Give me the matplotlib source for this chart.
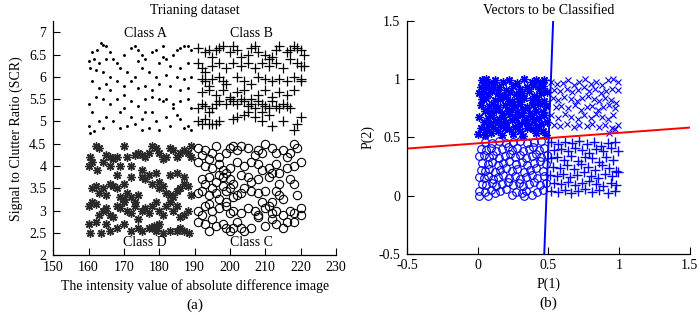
import numpy as np
import matplotlib
matplotlib.use('Agg')
import matplotlib.pyplot as plt
from matplotlib.ticker import FuncFormatter

plt.rcParams['font.family'] = ['Liberation Serif', 'DejaVu Serif']
plt.rcParams['font.size'] = 10

# ---- panel (a): training dataset, (intensity, SCR) ----
class_a = [(163.5, 6.75), (164, 6.72), (165, 6.7), (162.5, 6.6), (161, 6.55), (166, 6.55), (160, 6.35),
           (161.5, 6.4), (163, 6.3), (165, 6.4), (160.5, 6.2), (162, 6.15), (164, 6.1), (167, 6.4), (168, 6.3),
           (169, 6.2), (170, 6.5), (172, 6.65), (173, 6.7), (174, 6.6), (175, 6.5), (176, 6.4), (178, 6.55),
           (179, 6.6), (181, 6.45), (182, 6.4), (184, 6.5), (185, 6.6), (186, 6.65), (187, 6.7), (188, 6.7),
           (189, 6.6), (180, 6.3), (183, 6.25), (186, 6.2), (188, 6.3), (171, 6.1), (173, 6.0), (175, 6.2),
           (177, 6.1), (179, 6.0), (182, 6.05), (185, 6.0), (187, 5.95), (189, 6.0), (161, 5.9), (163, 5.75),
           (165, 5.85), (166, 5.7), (168, 5.9), (170, 5.8), (172, 5.9), (174, 5.75), (176, 5.8), (178, 5.7),
           (180, 5.85), (183, 5.8), (186, 5.7), (188, 5.75), (160, 5.4), (162, 5.55), (164, 5.5), (166, 5.4),
           (168, 5.5), (170, 5.6), (172, 5.45), (174, 5.35), (176, 5.5), (178, 5.55), (180, 5.5), (181, 5.45),
           (182, 5.5), (184, 5.4), (186, 5.45), (188, 5.5), (189, 5.3), (161, 5.2), (163, 5.0), (165, 5.1),
           (167, 5.0), (169, 5.2), (171, 4.9), (172, 5.1), (173, 4.95), (175, 5.05), (176, 5.2), (177, 4.85),
           (179, 5.0), (180, 4.8), (182, 5.1), (183, 4.9), (185, 5.15), (186, 5.05), (187, 4.85), (188, 4.9),
           (189, 4.8), (160, 4.9), (160.5, 4.75), (161.5, 4.78), (170, 5.3), (166, 6.0), (184, 5.3),
           (174, 6.35), (169, 4.85), (178, 5.2), (164, 4.85), (181, 6.7), (175, 4.8)]

class_b = [(191, 6.65), (193, 6.55), (194, 6.6), (195, 6.45), (196, 6.6), (197, 6.65), (198, 6.7), (200, 6.55),
           (201, 6.7), (202, 6.6), (203, 6.45), (205, 6.5), (206, 6.65), (207, 6.7), (208, 6.55), (210, 6.5),
           (211, 6.4), (212, 6.45), (213, 6.6), (214, 6.7), (216, 6.55), (217, 6.6), (218, 6.7), (219, 6.65),
           (220, 6.6), (221, 6.5), (191, 6.3), (192, 6.2), (193, 6.1), (195, 6.25), (197, 6.3), (199, 6.2),
           (201, 6.3), (203, 6.25), (205, 6.3), (207, 6.2), (209, 6.3), (211, 6.25), (213, 6.3), (215, 6.2),
           (217, 6.4), (219, 6.3), (220, 6.25), (221, 6.25), (192, 5.95), (193, 5.9), (194, 5.8), (195, 5.95),
           (197, 6.0), (198, 5.9), (199, 5.85), (202, 6.0), (204, 5.9), (206, 5.85), (208, 6.0), (210, 5.95),
           (212, 5.9), (214, 5.95), (216, 5.9), (218, 6.0), (220, 5.95), (220, 5.9), (192, 5.65), (194, 5.7),
           (196, 5.6), (198, 5.7), (200, 5.55), (202, 5.65), (204, 5.7), (206, 5.5), (208, 5.6), (210, 5.7),
           (212, 5.55), (214, 5.65), (216, 5.6), (218, 5.7), (191, 5.3), (192, 5.4), (193, 5.35), (194, 5.2),
           (195, 5.3), (196, 5.4), (197, 5.45), (199, 5.4), (200, 5.5), (201, 5.45), (202, 5.4), (203, 5.5),
           (204, 5.45), (205, 5.35), (206, 5.4), (207, 5.3), (208, 5.45), (209, 5.4), (210, 5.35), (211, 5.3),
           (212, 5.45), (213, 5.35), (214, 5.3), (215, 5.4), (216, 5.35), (217, 5.3), (191, 5.0), (192, 4.95),
           (193, 5.05), (194, 4.95), (195, 4.95), (196, 4.95), (197, 5.0), (201, 5.05), (202, 5.1), (205, 5.2),
           (207, 5.1), (209, 5.0), (212, 4.9), (215, 5.0), (219, 4.95), (218, 4.8), (220, 5.1), (209, 5.2),
           (204, 5.15), (211, 5.15)]

class_d = [(160, 4.0), (160.5, 4.2), (161, 4.1), (162, 4.45), (163, 4.4), (162.5, 3.9), (164, 4.1), (165, 4.25),
           (166, 4.2), (167, 4.15), (168, 4.2), (169, 4.0), (170, 4.45), (171, 4.2), (172, 4.0), (173, 4.25),
           (174, 4.3), (175, 4.25), (176, 4.2), (177, 4.3), (178, 4.45), (179, 4.4), (180, 4.3), (181, 4.15),
           (182, 4.2), (183, 4.4), (184, 4.35), (185, 4.2), (186, 4.3), (187, 4.35), (188, 4.3), (189, 4.45),
           (189, 4.2), (161, 3.5), (162, 3.55), (163, 3.4), (164, 3.5), (165, 3.35), (166, 3.6), (167, 3.55),
           (168, 3.5), (169, 3.3), (170, 3.25), (171, 3.4), (172, 3.3), (173, 3.2), (174, 3.35), (175, 3.75),
           (176, 3.7), (177, 3.8), (178, 3.6), (179, 3.85), (180, 3.5), (181, 3.55), (182, 3.4), (183, 3.35),
           (184, 3.3), (185, 3.45), (186, 3.5), (187, 3.6), (188, 3.55), (189, 3.35), (160, 3.1), (161, 3.2),
           (162, 3.15), (163, 2.9), (164, 3.0), (165, 3.05), (166, 2.9), (167, 2.85), (168, 3.1), (169, 3.05),
           (170, 3.2), (171, 3.0), (172, 2.95), (173, 3.1), (174, 2.8), (175, 3.0), (176, 3.05), (177, 2.95),
           (178, 3.1), (179, 3.2), (180, 3.0), (181, 2.9), (182, 3.1), (183, 3.2), (184, 3.0), (185, 3.1),
           (186, 2.85), (187, 2.9), (188, 3.0), (160, 2.7), (160.5, 2.5), (162, 2.75), (163.5, 2.5), (165, 2.7),
           (166, 2.55), (168, 2.6), (170, 2.7), (172, 2.55), (174, 2.6), (175, 2.55), (177, 2.6), (178, 2.6),
           (178.5, 2.65), (179, 2.55), (179.5, 2.6), (180, 2.7), (181, 2.5), (183, 2.55), (185, 2.55),
           (186, 2.6), (187, 2.55), (188.5, 2.5), (166, 4.0), (175, 3.9), (183, 3.8), (185, 3.85), (168, 3.8),
           (172, 3.75), (170, 3.6), (180, 3.65), (187, 3.75)]

class_c = [(191, 4.4), (192, 4.25), (193, 4.35), (194, 4.15), (195, 4.3), (196, 4.45), (197, 4.2), (199, 4.3),
           (200, 4.4), (201, 4.45), (202, 4.35), (203, 4.45), (205, 4.4), (207, 4.25), (208, 4.35), (209, 4.3),
           (210, 4.5), (212, 4.4), (213, 4.3), (215, 4.35), (216, 4.2), (217, 4.3), (218, 4.5), (219, 4.4),
           (191, 4.1), (193, 4.0), (195, 3.95), (197, 4.05), (198, 3.9), (200, 3.95), (202, 4.1), (204, 4.0),
           (206, 4.1), (208, 4.05), (209, 3.9), (211, 3.95), (213, 4.05), (214, 3.85), (216, 3.95), (218, 4.0),
           (220, 4.1), (192, 3.7), (193, 3.6), (194, 3.75), (196, 3.65), (197, 3.8), (198, 3.75), (199, 3.85),
           (200, 3.7), (201, 3.6), (203, 3.8), (205, 3.75), (206, 3.65), (208, 3.7), (211, 3.75), (212, 3.85),
           (214, 3.6), (217, 3.7), (218, 3.6), (191, 3.4), (192, 3.45), (194, 3.35), (195, 3.5), (196, 3.4),
           (198, 3.55), (199, 3.45), (200, 3.5), (201, 3.3), (202, 3.35), (203, 3.4), (204, 3.5), (206, 3.45),
           (208, 3.4), (210, 3.45), (213, 3.45), (214, 3.35), (215, 3.25), (219, 3.35), (191, 3.0), (192, 2.9),
           (193, 3.1), (194, 3.15), (195, 3.0), (197, 3.05), (199, 3.1), (200, 2.95), (201, 3.0), (203, 2.95),
           (205, 3.05), (207, 3.0), (208, 2.9), (210, 3.05), (211, 3.1), (212, 2.95), (213, 3.0), (215, 2.9),
           (217, 3.0), (218, 2.95), (220, 3.05), (191, 2.75), (193, 2.7), (194, 2.55), (195, 2.8), (196, 2.65),
           (198, 2.7), (199, 2.6), (200, 2.55), (201, 2.6), (202, 2.75), (203, 2.6), (204, 2.55), (206, 2.6),
           (208, 2.85), (210, 2.65), (212, 2.8), (213, 2.7), (215, 2.6), (216, 2.75), (218, 2.75), (220, 2.9),
           (197, 3.25), (209, 3.2), (212, 3.2), (199, 3.2)]

class_labels = ['Class A', 'Class B', 'Class C', 'Class D']
label_pos = [(176, 6.97), (206, 6.97), (206, 2.28), (176, 2.28)]

# ---- panel (b): vectors to be classified, (P1, P2) ----
vec_ast = [(0.03, 0.99), (0.06, 1.0), (0.08, 0.97), (0.12, 0.99), (0.18, 0.98), (0.22, 0.99), (0.28, 0.97),
           (0.33, 1.0), (0.38, 0.98), (0.41, 0.99), (0.44, 0.97), (0.47, 0.99), (0.02, 0.93), (0.05, 0.94),
           (0.09, 0.92), (0.11, 0.95), (0.15, 0.93), (0.2, 0.91), (0.25, 0.94), (0.3, 0.92), (0.35, 0.93),
           (0.39, 0.95), (0.43, 0.92), (0.46, 0.94), (0.01, 0.88), (0.04, 0.89), (0.07, 0.87), (0.1, 0.9),
           (0.14, 0.88), (0.17, 0.86), (0.23, 0.89), (0.27, 0.87), (0.31, 0.88), (0.36, 0.9), (0.4, 0.86),
           (0.45, 0.88), (0.49, 0.89), (0.03, 0.83), (0.06, 0.84), (0.12, 0.82), (0.16, 0.83), (0.2, 0.85),
           (0.24, 0.81), (0.29, 0.83), (0.33, 0.84), (0.38, 0.82), (0.42, 0.83), (0.47, 0.81), (0.02, 0.78),
           (0.08, 0.77), (0.11, 0.79), (0.14, 0.76), (0.19, 0.78), (0.22, 0.8), (0.26, 0.77), (0.3, 0.79),
           (0.35, 0.76), (0.39, 0.78), (0.44, 0.79), (0.48, 0.77), (0.05, 0.73), (0.09, 0.72), (0.13, 0.74),
           (0.17, 0.71), (0.21, 0.73), (0.25, 0.75), (0.28, 0.72), (0.32, 0.74), (0.37, 0.71), (0.41, 0.73),
           (0.46, 0.72), (0.01, 0.68), (0.07, 0.67), (0.1, 0.69), (0.15, 0.66), (0.18, 0.68), (0.23, 0.7),
           (0.27, 0.67), (0.31, 0.69), (0.34, 0.66), (0.38, 0.68), (0.43, 0.67), (0.47, 0.69), (0.04, 0.63),
           (0.08, 0.62), (0.12, 0.64), (0.16, 0.61), (0.2, 0.63), (0.24, 0.65), (0.29, 0.62), (0.33, 0.63),
           (0.36, 0.61), (0.4, 0.64), (0.45, 0.62), (0.49, 0.63), (0.02, 0.58), (0.06, 0.57), (0.11, 0.59),
           (0.14, 0.56), (0.19, 0.58), (0.22, 0.57), (0.26, 0.59), (0.3, 0.56), (0.35, 0.58), (0.39, 0.57),
           (0.42, 0.59), (0.46, 0.56), (0.0, 0.53), (0.05, 0.52), (0.09, 0.54), (0.17, 0.52), (0.25, 0.53),
           (0.32, 0.51), (0.41, 0.54), (0.48, 0.52)]

vec_x = [(0.52, 0.98), (0.56, 0.96), (0.6, 0.97), (0.64, 0.99), (0.68, 0.95), (0.72, 0.98), (0.76, 1.0),
         (0.8, 0.96), (0.84, 0.98), (0.88, 0.95), (0.92, 0.99), (0.96, 1.0), (0.99, 0.98), (0.54, 0.91),
         (0.58, 0.9), (0.63, 0.92), (0.67, 0.89), (0.71, 0.91), (0.75, 0.93), (0.79, 0.9), (0.83, 0.92),
         (0.87, 0.88), (0.91, 0.9), (0.95, 0.92), (0.99, 0.91), (0.53, 0.84), (0.57, 0.82), (0.61, 0.85),
         (0.66, 0.83), (0.7, 0.81), (0.74, 0.84), (0.78, 0.86), (0.82, 0.83), (0.86, 0.81), (0.9, 0.84),
         (0.94, 0.82), (0.98, 0.8), (0.55, 0.76), (0.59, 0.77), (0.64, 0.75), (0.69, 0.78), (0.73, 0.74),
         (0.77, 0.76), (0.81, 0.77), (0.85, 0.74), (0.89, 0.76), (0.93, 0.78), (0.97, 0.75), (0.52, 0.69),
         (0.57, 0.67), (0.62, 0.7), (0.66, 0.68), (0.71, 0.66), (0.75, 0.69), (0.8, 0.67), (0.84, 0.7),
         (0.88, 0.68), (0.92, 0.66), (0.96, 0.69), (0.54, 0.61), (0.58, 0.6), (0.63, 0.62), (0.68, 0.59),
         (0.72, 0.61), (0.77, 0.6), (0.81, 0.62), (0.86, 0.59), (0.9, 0.61), (0.95, 0.58), (0.99, 0.61),
         (0.97, 0.57), (0.93, 0.54)]

vec_o = [(0.05, 0.46), (0.1, 0.45), (0.15, 0.47), (0.2, 0.45), (0.25, 0.46), (0.3, 0.47), (0.35, 0.45),
         (0.4, 0.46), (0.45, 0.47), (0.02, 0.4), (0.06, 0.39), (0.09, 0.41), (0.13, 0.38), (0.17, 0.4),
         (0.21, 0.42), (0.24, 0.39), (0.28, 0.41), (0.32, 0.38), (0.36, 0.4), (0.39, 0.42), (0.43, 0.39),
         (0.47, 0.41), (0.01, 0.34), (0.04, 0.35), (0.08, 0.33), (0.11, 0.35), (0.15, 0.32), (0.19, 0.34),
         (0.23, 0.36), (0.26, 0.33), (0.3, 0.35), (0.34, 0.32), (0.38, 0.34), (0.41, 0.36), (0.45, 0.33),
         (0.49, 0.35), (0.03, 0.28), (0.07, 0.27), (0.1, 0.29), (0.14, 0.26), (0.18, 0.28), (0.22, 0.3),
         (0.27, 0.27), (0.31, 0.29), (0.35, 0.26), (0.4, 0.28), (0.44, 0.3), (0.48, 0.27), (0.02, 0.22),
         (0.05, 0.21), (0.08, 0.23), (0.12, 0.2), (0.16, 0.22), (0.2, 0.24), (0.24, 0.21), (0.28, 0.23),
         (0.33, 0.2), (0.37, 0.22), (0.41, 0.24), (0.46, 0.21), (0.01, 0.16), (0.04, 0.15), (0.07, 0.17),
         (0.11, 0.14), (0.14, 0.16), (0.18, 0.18), (0.22, 0.15), (0.26, 0.17), (0.3, 0.14), (0.34, 0.16),
         (0.38, 0.18), (0.42, 0.15), (0.47, 0.17), (0.03, 0.1), (0.06, 0.09), (0.1, 0.11), (0.13, 0.08),
         (0.17, 0.1), (0.21, 0.12), (0.25, 0.09), (0.29, 0.11), (0.32, 0.08), (0.36, 0.1), (0.4, 0.12),
         (0.44, 0.09), (0.48, 0.11), (0.01, 0.04), (0.05, 0.03), (0.09, 0.05), (0.12, 0.02), (0.16, 0.04),
         (0.2, 0.06), (0.27, 0.03), (0.31, 0.02), (0.34, 0.04), (0.38, 0.01), (0.42, 0.03), (0.46, 0.05),
         (0.01, 0.0), (0.07, 0.0), (0.24, 0.01), (0.33, 0.0)]

vec_plus = [(0.52, 0.46), (0.57, 0.44), (0.62, 0.46), (0.67, 0.45), (0.72, 0.47), (0.77, 0.44), (0.82, 0.46),
            (0.87, 0.43), (0.92, 0.45), (0.97, 0.46), (0.54, 0.39), (0.59, 0.4), (0.64, 0.38), (0.69, 0.41),
            (0.74, 0.39), (0.79, 0.37), (0.84, 0.4), (0.89, 0.38), (0.94, 0.41), (0.99, 0.38), (0.52, 0.32),
            (0.56, 0.33), (0.61, 0.31), (0.66, 0.34), (0.71, 0.3), (0.76, 0.33), (0.81, 0.32), (0.86, 0.29),
            (0.91, 0.33), (0.96, 0.31), (0.53, 0.25), (0.58, 0.24), (0.63, 0.26), (0.68, 0.23), (0.73, 0.27),
            (0.78, 0.25), (0.83, 0.22), (0.88, 0.26), (0.93, 0.24), (0.98, 0.21), (0.51, 0.18), (0.56, 0.17),
            (0.6, 0.19), (0.65, 0.16), (0.7, 0.18), (0.75, 0.2), (0.8, 0.17), (0.85, 0.15), (0.9, 0.19),
            (0.95, 0.17), (0.99, 0.2), (0.54, 0.11), (0.59, 0.1), (0.64, 0.12), (0.69, 0.09), (0.74, 0.11),
            (0.79, 0.13), (0.84, 0.1), (0.89, 0.08), (0.94, 0.11), (0.98, 0.09), (0.52, 0.04), (0.57, 0.03),
            (0.62, 0.05), (0.66, 0.02), (0.71, 0.04), (0.76, 0.06), (0.81, 0.03), (0.86, 0.05), (0.92, 0.02),
            (0.97, 0.04)]

# decision boundaries: red  P2 = a + b*P1,  blue  P1 = c + d*P2
red_a, red_b = 0.45, 0.09
blue_c, blue_d = 0.486, 0.0315

fig = plt.figure(figsize=(7, 3.15), dpi=100)
ax1 = fig.add_axes([0.076, 0.19, 0.404, 0.743])
ax2 = fig.add_axes([0.582, 0.194, 0.403, 0.739])


def style_axes(ax):
    ax.spines['top'].set_visible(False)
    ax.spines['right'].set_visible(False)
    ax.tick_params(direction='in', length=5, width=0.8, labelsize=10)
    ax.tick_params(axis='x', pad=4)
    ax.tick_params(axis='y', pad=5)
    for s in ('left', 'bottom'):
        ax.spines[s].set_linewidth(0.9)


# panel (a)
pts = np.array(class_a)
ax1.plot(pts[:, 0], pts[:, 1], '.', color='black', markersize=2.2)
pts = np.array(class_b)
ax1.plot(pts[:, 0], pts[:, 1], '+', color='black', markersize=7, mew=0.9)
pts = np.array(class_d)
ax1.plot(pts[:, 0], pts[:, 1], linestyle='none', marker=(8, 2, 0), color='#2a2a2a', markersize=6, mew=1.0)
pts = np.array(class_c)
ax1.plot(pts[:, 0], pts[:, 1], 'o', mfc='none', mec='black', markersize=6, mew=0.8)

for lab, (x, y) in zip(class_labels, label_pos):
    ax1.text(x, y, lab, ha='center', va='center', fontsize=10)

ax1.set_xlim(150, 230)
ax1.set_ylim(2, 7.25)
ax1.set_xticks(np.arange(150, 231, 10))
ax1.set_yticks(np.arange(2, 7.01, 0.5))
ax1.yaxis.set_major_formatter(FuncFormatter(lambda v, p: '%g' % v))
style_axes(ax1)
ax1.set_title('Trianing dataset', fontsize=10, pad=5)
ax1.set_xlabel('The intensity value of absolute difference image', fontsize=10, labelpad=4)
ax1.set_ylabel('Signal to Clutter Ratio (SCR)', fontsize=10, labelpad=4)
ax1.text(0.5, -0.215, '(a)', transform=ax1.transAxes, ha='center', va='center', fontsize=11)

# panel (b)
blue = '#0000ff'
pts = np.array(vec_o)
ax2.plot(pts[:, 0], pts[:, 1], 'o', mfc='none', mec=blue, markersize=5.5, mew=0.8)
pts = np.array(vec_plus)
ax2.plot(pts[:, 0], pts[:, 1], '+', color=blue, markersize=6.5, mew=1.0)
pts = np.array(vec_ast)
ax2.plot(pts[:, 0], pts[:, 1], linestyle='none', marker=(8, 2, 0), color=blue, markersize=6, mew=1.0)
pts = np.array(vec_x)
ax2.plot(pts[:, 0], pts[:, 1], 'x', color=blue, markersize=5, mew=0.8)

xs = np.array([-0.5, 1.5])
ax2.plot(xs, red_a + red_b * xs, color='red', lw=1.4)
ys = np.array([-0.5, 1.5])
ax2.plot(blue_c + blue_d * ys, ys, color=blue, lw=1.4)

ax2.set_xlim(-0.5, 1.5)
ax2.set_ylim(-0.5, 1.5)
ax2.set_xticks([-0.5, 0, 0.5, 1, 1.5])
ax2.set_yticks([-0.5, 0, 0.5, 1, 1.5])
fmt = FuncFormatter(lambda v, p: '%g' % v)
ax2.xaxis.set_major_formatter(fmt)
ax2.yaxis.set_major_formatter(fmt)
style_axes(ax2)
ax2.set_title('Vectors to be Classified', fontsize=10, pad=5)
ax2.set_xlabel('P(1)', fontsize=10, labelpad=4)
ax2.set_ylabel('P(2)', fontsize=10, labelpad=3)
ax2.text(0.5, -0.21, '(b)', transform=ax2.transAxes, ha='center', va='center', fontsize=11)

fig.savefig('out.png', dpi=100)
